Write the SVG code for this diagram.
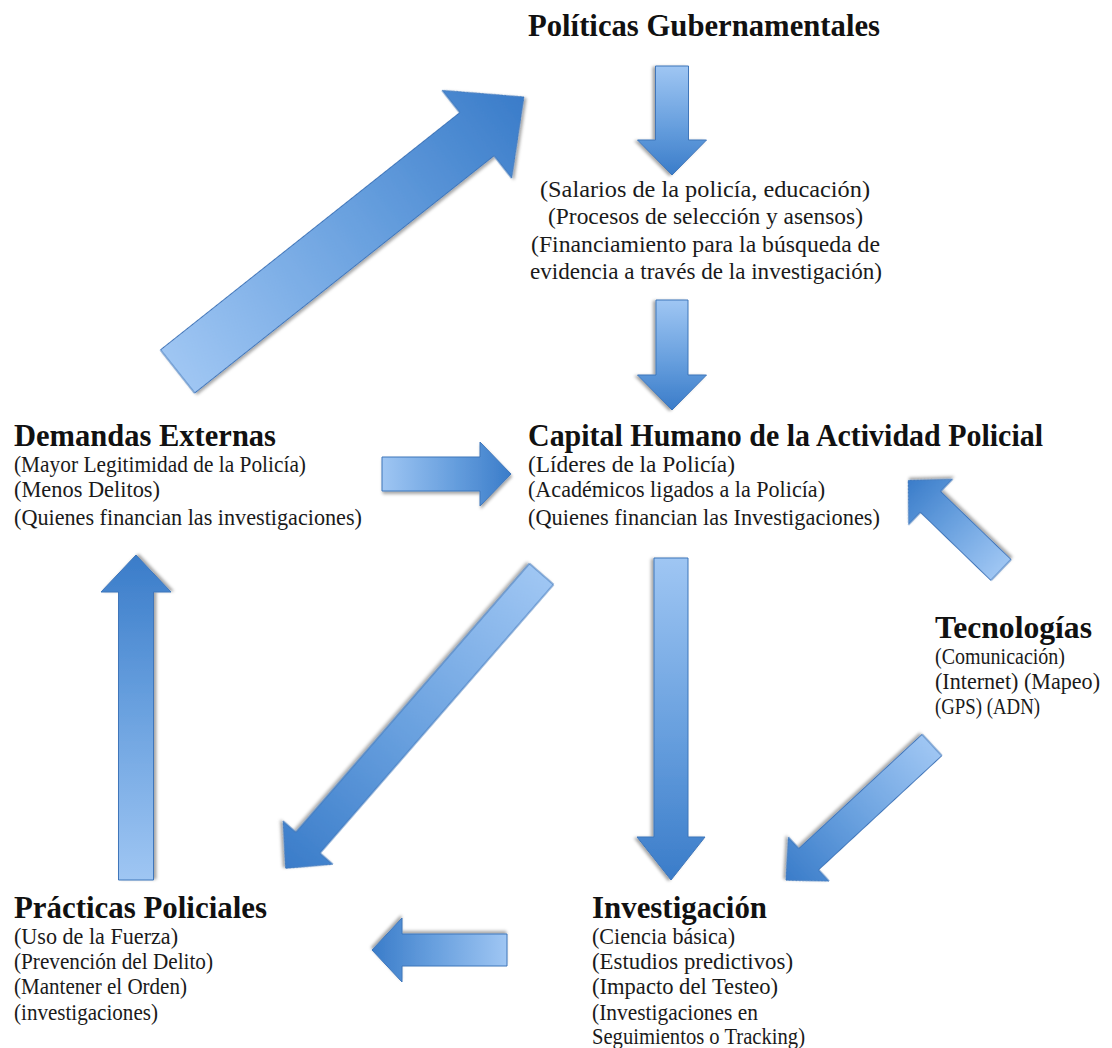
<svg xmlns="http://www.w3.org/2000/svg" width="1112" height="1048" viewBox="0 0 1112 1048">
  <style>
    .head { font-family: "Liberation Serif", "DejaVu Serif", serif; font-weight: bold; font-size: 31px; fill: #111; }
    .item { font-family: "Liberation Serif", "DejaVu Serif", serif; font-size: 23px; fill: #1a1a1a; }
    .arrow { fill: url(#blueFade); stroke: #3f76ba; stroke-width: 1; filter: url(#softShadow); }
  </style>
  <defs>
    <!-- light at the tail, deep blue at the head (local x axis of every arrow) -->
    <linearGradient id="blueFade" x1="0" y1="0" x2="1" y2="0">
      <stop offset="0" stop-color="#9fc6f3"/>
      <stop offset="0.55" stop-color="#679fde"/>
      <stop offset="1" stop-color="#3a7cc9"/>
    </linearGradient>
    <filter id="softShadow" x="-20%" y="-20%" width="140%" height="140%">
      <feDropShadow dx="1" dy="2.5" stdDeviation="1.8" flood-color="#000" flood-opacity="0.35"/>
    </filter>
  </defs>

  <rect width="1112" height="1048" fill="#fff"/>

  <!-- block arrows, drawn along +x and rotated into place -->
  <g id="connectors">
    <!-- Políticas -> detalle -->
    <path class="arrow" transform="translate(672,66) rotate(90)" d="M0,-16.5 L74,-16.5 L74,-34.5 L109,0 L74,34.5 L74,16.5 L0,16.5 Z"/>
    <!-- detalle -> Capital Humano -->
    <path class="arrow" transform="translate(672,300) rotate(90)" d="M0,-16 L75,-16 L75,-34.5 L110,0 L75,34.5 L75,16 L0,16 Z"/>
    <!-- Demandas Externas -> Capital Humano -->
    <path class="arrow" transform="translate(382,474)" d="M0,-17 L98,-17 L98,-32 L129,0 L98,32 L98,17 L0,17 Z"/>
    <!-- Demandas Externas -> Políticas -->
    <path class="arrow" transform="translate(177.5,371.5) rotate(-38.4)" d="M0,-27.5 L382,-27.5 L382,-56 L442,0 L382,56 L382,27.5 L0,27.5 Z"/>
    <!-- Capital Humano -> Investigación -->
    <path class="arrow" transform="translate(671,558) rotate(90)" d="M0,-17 L279,-17 L279,-34 L322,0 L279,34 L279,17 L0,17 Z"/>
    <!-- Capital Humano -> Prácticas -->
    <path class="arrow" transform="translate(541.5,574) rotate(131)" d="M0,-16 L356,-16 L356,-33 L390,0 L356,33 L356,16 L0,16 Z"/>
    <!-- Tecnologías -> Capital Humano -->
    <path class="arrow" transform="translate(1001,570) rotate(224)" d="M0,-14.5 L98,-14.5 L98,-31.5 L129,0 L98,31.5 L98,14.5 L0,14.5 Z"/>
    <!-- Tecnologías -> Investigación -->
    <path class="arrow" transform="translate(932,745) rotate(137.2)" d="M0,-14.5 L168,-14.5 L168,-30 L199,0 L168,30 L168,14.5 L0,14.5 Z"/>
    <!-- Prácticas -> Demandas Externas -->
    <path class="arrow" transform="translate(136,880) rotate(-90)" d="M0,-17.5 L288,-17.5 L288,-35 L325,0 L288,35 L288,17.5 L0,17.5 Z"/>
    <!-- Investigación -> Prácticas -->
    <path class="arrow" transform="translate(507,950) rotate(180)" d="M0,-16 L105,-16 L105,-32 L135,0 L105,32 L105,16 L0,16 Z"/>
  </g>

  <g id="node-politicas">
    <text class="head" x="528" y="36" textLength="352" lengthAdjust="spacingAndGlyphs">Políticas Gubernamentales</text>
  </g>

  <g id="node-politicas-detalle">
    <text class="item" x="540" y="197" textLength="330" lengthAdjust="spacingAndGlyphs">(Salarios de la policía, educación)</text>
    <text class="item" x="548" y="224" textLength="315" lengthAdjust="spacingAndGlyphs">(Procesos de selección y asensos)</text>
    <text class="item" x="531" y="252" textLength="349" lengthAdjust="spacingAndGlyphs">(Financiamiento para la búsqueda de</text>
    <text class="item" x="530" y="279" textLength="352" lengthAdjust="spacingAndGlyphs">evidencia a través de la investigación)</text>
  </g>

  <g id="node-capital">
    <text class="head" x="528" y="446" textLength="515" lengthAdjust="spacingAndGlyphs">Capital Humano de la Actividad Policial</text>
    <text class="item" x="528" y="472" textLength="207" lengthAdjust="spacingAndGlyphs">(Líderes de la Policía)</text>
    <text class="item" x="528" y="497" textLength="297" lengthAdjust="spacingAndGlyphs">(Académicos ligados a la Policía)</text>
    <text class="item" x="528" y="525" textLength="352" lengthAdjust="spacingAndGlyphs">(Quienes financian las Investigaciones)</text>
  </g>

  <g id="node-demandas">
    <text class="head" x="14" y="446" textLength="262" lengthAdjust="spacingAndGlyphs">Demandas Externas</text>
    <text class="item" x="14" y="472" textLength="292" lengthAdjust="spacingAndGlyphs">(Mayor Legitimidad de la Policía)</text>
    <text class="item" x="14" y="497" textLength="146" lengthAdjust="spacingAndGlyphs">(Menos Delitos)</text>
    <text class="item" x="14" y="525" textLength="348" lengthAdjust="spacingAndGlyphs">(Quienes financian las investigaciones)</text>
  </g>

  <g id="node-tecnologias">
    <text class="head" x="935" y="638" textLength="157" lengthAdjust="spacingAndGlyphs">Tecnologías</text>
    <text class="item" x="935" y="664" textLength="130" lengthAdjust="spacingAndGlyphs">(Comunicación)</text>
    <text class="item" x="935" y="689" textLength="165" lengthAdjust="spacingAndGlyphs">(Internet) (Mapeo)</text>
    <text class="item" x="935" y="714" textLength="105" lengthAdjust="spacingAndGlyphs">(GPS) (ADN)</text>
  </g>

  <g id="node-practicas">
    <text class="head" x="14" y="918" textLength="253" lengthAdjust="spacingAndGlyphs">Prácticas Policiales</text>
    <text class="item" x="14" y="944" textLength="164" lengthAdjust="spacingAndGlyphs">(Uso de la Fuerza)</text>
    <text class="item" x="14" y="969" textLength="199" lengthAdjust="spacingAndGlyphs">(Prevención del Delito)</text>
    <text class="item" x="14" y="994" textLength="173" lengthAdjust="spacingAndGlyphs">(Mantener el Orden)</text>
    <text class="item" x="14" y="1020" textLength="144" lengthAdjust="spacingAndGlyphs">(investigaciones)</text>
  </g>

  <g id="node-investigacion">
    <text class="head" x="592" y="918" textLength="175" lengthAdjust="spacingAndGlyphs">Investigación</text>
    <text class="item" x="592" y="944" textLength="143" lengthAdjust="spacingAndGlyphs">(Ciencia básica)</text>
    <text class="item" x="592" y="969" textLength="201" lengthAdjust="spacingAndGlyphs">(Estudios predictivos)</text>
    <text class="item" x="592" y="994" textLength="186" lengthAdjust="spacingAndGlyphs">(Impacto del Testeo)</text>
    <text class="item" x="592" y="1020" textLength="166" lengthAdjust="spacingAndGlyphs">(Investigaciones en</text>
    <text class="item" x="592" y="1044" textLength="213" lengthAdjust="spacingAndGlyphs">Seguimientos o Tracking)</text>
  </g>
</svg>
